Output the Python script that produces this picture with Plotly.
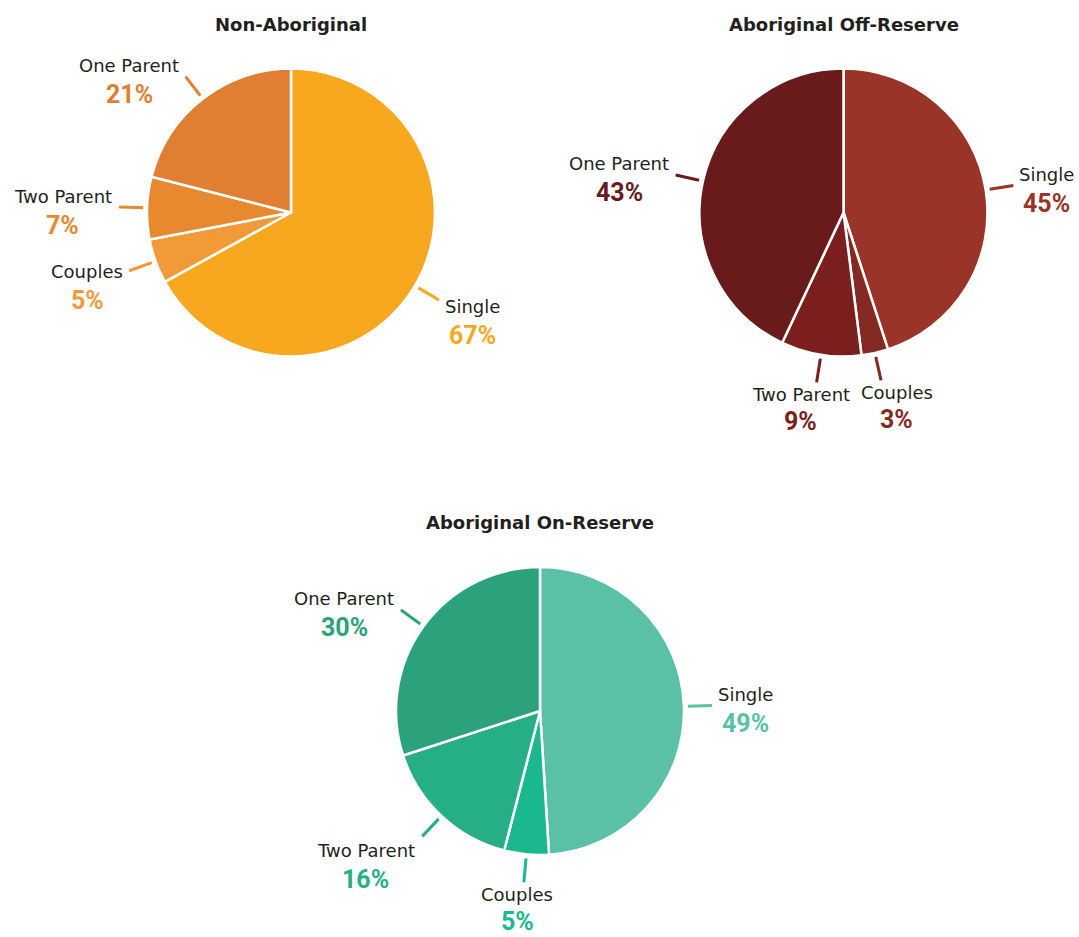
import math
import plotly.graph_objects as go

# ---------------- data ----------------
CATEGORIES = ["Single", "Couples", "Two Parent", "One Parent"]
NON_ABORIGINAL = [67, 5, 7, 21]
OFF_RESERVE = [45, 3, 9, 43]
ON_RESERVE = [49, 5, 16, 30]
GROUP_TITLES = ["Non-Aboriginal", "Aboriginal Off-Reserve", "Aboriginal On-Reserve"]

# ---------------- style / layout ----------------
W, H = 1079, 937
PIE_GEOM = [(291, 212.5, 144), (843.5, 212.5, 144), (540, 711, 144)]  # cx, cy, r (px)
TITLE_Y = [25, 25, 522]
COLORS = [
    ["#F7A81E", "#F39A38", "#E8882F", "#E07E32"],
    ["#9A3328", "#852A22", "#7A1F1E", "#691B1C"],
    ["#5BC1A6", "#1BB890", "#26AE87", "#2BA27B"],
]
NAME_WIDTH = {"Single": 55, "Couples": 72, "Two Parent": 101, "One Parent": 101}
TEXT_DARK = "#231F20"
HH = 27  # half height of a label block


def px(x):
    return x / W


def py(y):
    return 1 - y / H


series = [NON_ABORIGINAL, OFF_RESERVE, ON_RESERVE]
fig = go.Figure()
annotations = []
shapes = []

for k, vals in enumerate(series):
    cx, cy, r = PIE_GEOM[k]
    fig.add_trace(go.Pie(
        labels=CATEGORIES, values=vals, sort=False, direction="clockwise",
        rotation=0, textinfo="none", hoverinfo="label+percent",
        marker=dict(colors=COLORS[k], line=dict(color="white", width=2.5)),
        domain=dict(x=[px(cx - r), px(cx + r)], y=[py(cy + r), py(cy - r)]),
        showlegend=False,
    ))
    annotations.append(dict(
        text="<b>" + GROUP_TITLES[k] + "</b>", x=px(cx), y=py(TITLE_Y[k]),
        xref="paper", yref="paper", xanchor="center", yanchor="middle",
        showarrow=False, font=dict(family="DejaVu Sans", size=18, color=TEXT_DARK),
    ))
    total = sum(vals)
    cum = 0
    for i, (name, v) in enumerate(zip(CATEGORIES, vals)):
        mid = (cum + v / 2) / total * 2 * math.pi
        cum += v
        ux, uy = math.sin(mid), -math.cos(mid)
        x0, y0 = cx + (r + 4) * ux, cy + (r + 4) * uy
        x1, y1 = cx + (r + 28) * ux, cy + (r + 28) * uy
        shapes.append(dict(type="line", xref="paper", yref="paper",
                           x0=px(x0), y0=py(y0), x1=px(x1), y1=py(y1),
                           line=dict(color=COLORS[k][i], width=3)))
        hw = NAME_WIDTH[name] / 2
        if abs(ux) >= 0.5:
            bx = x1 + 6 + hw if ux > 0 else x1 - 6 - hw
            by = y1 + HH * max(uy, 0) * 1.3 + 4
            gap_up, gap_down = 15, 14
        else:
            bx = x1 + 2 * hw * ux
            by = y1 + HH
            gap_up, gap_down = 15, 12
        annotations.append(dict(
            text=name, x=px(bx), y=py(by - gap_up), xref="paper", yref="paper",
            xanchor="center", yanchor="middle", showarrow=False, borderpad=0,
            font=dict(family="DejaVu Sans", size=18, color=TEXT_DARK),
        ))
        annotations.append(dict(
            text="<b>%d%%</b>" % v, x=px(bx), y=py(by + gap_down), xref="paper", yref="paper",
            xanchor="center", yanchor="middle", showarrow=False, borderpad=0,
            font=dict(family="Roboto", size=25, color=COLORS[k][i]),
        ))

fig.update_layout(
    width=W, height=H, margin=dict(l=0, r=0, t=0, b=0),
    paper_bgcolor="white", plot_bgcolor="white",
    annotations=annotations, shapes=shapes,
)
fig.write_html(
    "out.html",
    config={"displayModeBar": False},
    post_script="document.body.style.margin='0';document.body.style.overflow='hidden';",
)
